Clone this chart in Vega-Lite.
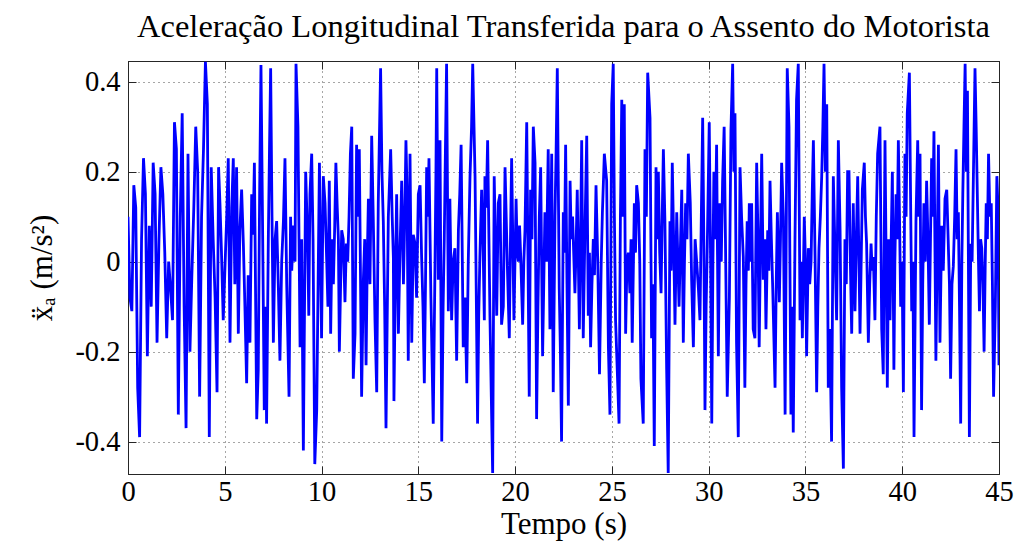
{
  "$schema": "https://vega.github.io/schema/vega-lite/v6.json",
  "width": 871,
  "height": 413,
  "autosize": {"type": "none"},
  "padding": {"left": 128, "top": 61, "right": 18, "bottom": 73},
  "background": "white",
  "title": {"text": "Aceleração Longitudinal Transferida para o Assento do Motorista", "font": "Liberation Serif", "fontSize": 32.5, "fontWeight": "normal", "color": "#000", "anchor": "middle", "offset": 17},
  "config": {
    "view": {"stroke": "#262626", "strokeWidth": 1},
    "axis": {"labelFont": "Liberation Serif", "titleFont": "Liberation Serif", "labelFontSize": 28.5, "titleFontSize": 31, "titleFontWeight": "normal", "labelColor": "#000", "titleColor": "#000", "domainColor": "#262626", "tickColor": "#262626", "tickSize": -8, "gridColor": "#222", "gridDash": [1, 4], "gridOpacity": 0.8}
  },
  "data": {"values": [
    {"t":0.0,"a":0.10},{"t":0.1,"a":-0.08},{"t":0.2,"a":-0.11},{"t":0.3,"a":0.17},{"t":0.4,"a":0.12},{"t":0.5,"a":-0.28},{"t":0.6,"a":-0.39},{"t":0.7,"a":0.05},{"t":0.8,"a":0.23},{"t":0.9,"a":0.15},
    {"t":1.0,"a":-0.21},{"t":1.1,"a":0.08},{"t":1.2,"a":-0.10},{"t":1.3,"a":0.22},{"t":1.4,"a":0.15},{"t":1.5,"a":-0.18},{"t":1.6,"a":0.05},{"t":1.7,"a":0.21},{"t":1.8,"a":0.15},{"t":1.9,"a":0.02},
    {"t":2.0,"a":-0.17},{"t":2.1,"a":0.0},{"t":2.2,"a":-0.06},{"t":2.3,"a":-0.13},{"t":2.4,"a":0.31},{"t":2.5,"a":0.25},{"t":2.6,"a":-0.34},{"t":2.7,"a":0.10},{"t":2.8,"a":0.33},{"t":2.9,"a":-0.10},
    {"t":3.0,"a":-0.37},{"t":3.1,"a":0.24},{"t":3.2,"a":-0.20},{"t":3.3,"a":-0.03},{"t":3.4,"a":0.12},{"t":3.5,"a":0.30},{"t":3.6,"a":0.20},{"t":3.7,"a":-0.30},{"t":3.8,"a":0.10},{"t":3.9,"a":0.25},
    {"t":4.0,"a":0.444},{"t":4.1,"a":0.35},{"t":4.2,"a":-0.39},{"t":4.3,"a":0.21},{"t":4.4,"a":0.05},{"t":4.5,"a":-0.08},{"t":4.6,"a":-0.29},{"t":4.68,"a":0.21},
    {"t":4.75,"a":0.13},{"t":4.83,"a":0.02},{"t":4.92,"a":-0.13},{"t":5.02,"a":0.0},{"t":5.10,"a":0.10},{"t":5.18,"a":0.23},{"t":5.27,"a":-0.18},{"t":5.36,"a":0.12},{"t":5.44,"a":0.23},{"t":5.52,"a":-0.05},
    {"t":5.61,"a":0.21},{"t":5.70,"a":-0.16},{"t":5.78,"a":0.07},{"t":5.87,"a":0.16},{"t":5.96,"a":0.04},{"t":6.04,"a":-0.10},{"t":6.13,"a":-0.27},{"t":6.21,"a":-0.03},{"t":6.30,"a":-0.18},{"t":6.39,"a":0.15},
    {"t":6.46,"a":0.06},{"t":6.53,"a":0.22},{"t":6.65,"a":-0.35},{"t":6.73,"a":-0.24},{"t":6.80,"a":0.15},{"t":6.87,"a":0.437},{"t":6.96,"a":0.05},{"t":7.04,"a":-0.33},{"t":7.10,"a":-0.10},{"t":7.16,"a":-0.36},
    {"t":7.25,"a":0.05},{"t":7.31,"a":0.25},{"t":7.37,"a":0.43},{"t":7.44,"a":0.10},{"t":7.51,"a":-0.18},{"t":7.60,"a":0.05},{"t":7.68,"a":0.09},{"t":7.77,"a":-0.06},{"t":7.85,"a":-0.22},{"t":7.94,"a":0.0},
    {"t":8.03,"a":0.09},{"t":8.11,"a":0.23},{"t":8.20,"a":-0.05},{"t":8.32,"a":-0.30},{"t":8.40,"a":0.10},{"t":8.46,"a":-0.02},{"t":8.55,"a":0.08},{"t":8.63,"a":0.0},{"t":8.68,"a":0.44},{"t":8.78,"a":0.30},
    {"t":8.89,"a":-0.19},{"t":8.97,"a":0.05},{"t":9.06,"a":-0.42},{"t":9.12,"a":-0.10},{"t":9.18,"a":0.20},{"t":9.28,"a":0.05},{"t":9.34,"a":-0.12},{"t":9.40,"a":0.15},{"t":9.49,"a":0.24},{"t":9.56,"a":0.05},
    {"t":9.65,"a":-0.45},{"t":9.75,"a":-0.33},{"t":9.89,"a":0.22},{"t":10.0,"a":-0.17},{"t":10.09,"a":0.19},{"t":10.18,"a":0.13},{"t":10.26,"a":0.01},{"t":10.33,"a":-0.10},{"t":10.40,"a":0.18},{"t":10.47,"a":-0.16},
    {"t":10.54,"a":0.05},{"t":10.61,"a":-0.05},{"t":10.68,"a":0.08},{"t":10.74,"a":0.22},{"t":10.81,"a":0.12},{"t":10.87,"a":0.05},{"t":10.92,"a":-0.20},{"t":10.98,"a":-0.06},{"t":11.04,"a":0.07},{"t":11.12,"a":0.05},
    {"t":11.21,"a":-0.09},{"t":11.28,"a":0.04},{"t":11.35,"a":0.0},{"t":11.42,"a":0.10},{"t":11.49,"a":0.24},{"t":11.56,"a":0.30},{"t":11.64,"a":-0.26},{"t":11.73,"a":-0.16},{"t":11.81,"a":0.26},{"t":11.88,"a":0.10},
    {"t":11.95,"a":0.25},{"t":12.07,"a":-0.30},{"t":12.16,"a":-0.04},{"t":12.23,"a":0.05},{"t":12.30,"a":-0.23},{"t":12.36,"a":0.0},{"t":12.42,"a":0.14},{"t":12.50,"a":-0.05},{"t":12.59,"a":0.28},{"t":12.67,"a":0.10},
    {"t":12.76,"a":-0.13},{"t":12.85,"a":-0.29},{"t":12.93,"a":0.13},{"t":13.05,"a":0.43},{"t":13.12,"a":0.20},{"t":13.19,"a":0.09},{"t":13.26,"a":-0.10},{"t":13.33,"a":-0.37},{"t":13.45,"a":0.10},{"t":13.57,"a":0.25},
    {"t":13.65,"a":0.10},{"t":13.71,"a":0.01},{"t":13.74,"a":-0.31},{"t":13.81,"a":-0.05},{"t":13.88,"a":0.15},{"t":13.97,"a":-0.16},{"t":14.05,"a":0.02},{"t":14.14,"a":0.18},{"t":14.23,"a":-0.05},{"t":14.30,"a":0.10},
    {"t":14.36,"a":0.27},{"t":14.42,"a":0.15},{"t":14.48,"a":-0.22},{"t":14.57,"a":0.24},{"t":14.66,"a":-0.18},{"t":14.74,"a":0.06},{"t":14.83,"a":0.04},{"t":14.91,"a":-0.08},{"t":15.0,"a":0.15},{"t":15.09,"a":0.17},
    {"t":15.17,"a":0.01},{"t":15.24,"a":-0.10},{"t":15.31,"a":-0.27},{"t":15.37,"a":-0.05},{"t":15.43,"a":0.21},{"t":15.49,"a":0.10},{"t":15.55,"a":0.23},{"t":15.65,"a":-0.08},{"t":15.77,"a":-0.36},{"t":15.86,"a":-0.01},
    {"t":15.91,"a":0.20},{"t":15.95,"a":0.43},{"t":16.03,"a":-0.04},{"t":16.12,"a":0.27},{"t":16.21,"a":-0.40},{"t":16.28,"a":-0.10},{"t":16.34,"a":0.05},{"t":16.40,"a":0.25},{"t":16.46,"a":0.44},{"t":16.55,"a":-0.11},
    {"t":16.63,"a":0.14},{"t":16.72,"a":-0.13},{"t":16.80,"a":0.0},{"t":16.89,"a":0.03},{"t":16.98,"a":-0.22},{"t":17.07,"a":0.07},{"t":17.14,"a":0.15},{"t":17.21,"a":0.26},{"t":17.32,"a":-0.19},{"t":17.41,"a":-0.08},
    {"t":17.50,"a":-0.27},{"t":17.58,"a":0.0},{"t":17.67,"a":0.19},{"t":17.75,"a":0.30},{"t":17.81,"a":0.44},{"t":17.93,"a":0.19},{"t":18.00,"a":-0.10},{"t":18.06,"a":-0.36},{"t":18.12,"a":-0.12},{"t":18.18,"a":0.01},
    {"t":18.27,"a":0.16},{"t":18.34,"a":0.05},{"t":18.41,"a":-0.13},{"t":18.44,"a":0.19},{"t":18.51,"a":0.12},{"t":18.58,"a":0.27},{"t":18.70,"a":-0.12},{"t":18.77,"a":-0.30},{"t":18.84,"a":-0.47},{"t":18.92,"a":0.19},
    {"t":18.98,"a":0.05},{"t":19.05,"a":-0.12},{"t":19.13,"a":0.13},{"t":19.22,"a":0.15},{"t":19.30,"a":-0.14},{"t":19.39,"a":-0.10},{"t":19.48,"a":0.21},{"t":19.60,"a":-0.01},{"t":19.70,"a":-0.17},{"t":19.76,"a":0.05},
    {"t":19.82,"a":0.23},{"t":19.88,"a":0.05},{"t":19.94,"a":-0.13},{"t":20.05,"a":0.14},{"t":20.11,"a":0.02},{"t":20.17,"a":0.0},{"t":20.23,"a":0.08},{"t":20.29,"a":0.01},{"t":20.39,"a":-0.14},{"t":20.45,"a":0.0},
    {"t":20.51,"a":0.07},{"t":20.60,"a":0.31},{"t":20.73,"a":-0.30},{"t":20.80,"a":0.16},{"t":20.87,"a":0.05},{"t":20.94,"a":0.30},{"t":21.03,"a":0.22},{"t":21.11,"a":-0.35},{"t":21.18,"a":-0.10},{"t":21.25,"a":0.10},
    {"t":21.32,"a":0.21},{"t":21.42,"a":-0.21},{"t":21.48,"a":-0.05},{"t":21.54,"a":0.11},{"t":21.62,"a":0.0},{"t":21.71,"a":0.25},{"t":21.80,"a":-0.15},{"t":21.89,"a":0.24},{"t":21.97,"a":-0.29},{"t":22.06,"a":0.10},
    {"t":22.12,"a":0.25},{"t":22.18,"a":0.43},{"t":22.28,"a":-0.06},{"t":22.34,"a":-0.20},{"t":22.40,"a":-0.40},{"t":22.49,"a":0.11},{"t":22.55,"a":0.02},{"t":22.61,"a":0.26},{"t":22.68,"a":-0.05},{"t":22.75,"a":-0.32},
    {"t":22.84,"a":0.18},{"t":22.90,"a":0.05},{"t":22.97,"a":0.10},{"t":23.09,"a":-0.07},{"t":23.15,"a":0.03},{"t":23.21,"a":0.16},{"t":23.32,"a":-0.15},{"t":23.38,"a":0.05},{"t":23.44,"a":0.27},{"t":23.52,"a":-0.17},
    {"t":23.60,"a":0.05},{"t":23.70,"a":0.28},{"t":23.78,"a":-0.12},{"t":23.84,"a":0.02},{"t":23.90,"a":-0.19},{"t":23.97,"a":-0.05},{"t":24.04,"a":0.05},{"t":24.10,"a":-0.03},{"t":24.18,"a":0.17},{"t":24.27,"a":0.0},
    {"t":24.36,"a":-0.25},{"t":24.45,"a":0.0},{"t":24.51,"a":0.11},{"t":24.61,"a":0.24},{"t":24.73,"a":0.18},{"t":24.82,"a":-0.19},{"t":24.90,"a":-0.34},{"t":24.99,"a":0.35},{"t":25.07,"a":0.44},{"t":25.13,"a":0.10},
    {"t":25.19,"a":-0.13},{"t":25.30,"a":-0.27},{"t":25.37,"a":-0.36},{"t":25.44,"a":0.10},{"t":25.51,"a":0.36},{"t":25.58,"a":0.10},{"t":25.64,"a":0.35},{"t":25.71,"a":-0.16},{"t":25.78,"a":0.0},{"t":25.85,"a":0.02},
    {"t":25.93,"a":-0.07},{"t":25.99,"a":0.05},{"t":26.05,"a":-0.18},{"t":26.16,"a":0.13},{"t":26.22,"a":0.02},{"t":26.28,"a":0.17},{"t":26.37,"a":0.13},{"t":26.44,"a":0.0},{"t":26.50,"a":-0.26},{"t":26.62,"a":-0.36},
    {"t":26.71,"a":0.25},{"t":26.78,"a":0.10},{"t":26.85,"a":0.42},{"t":26.97,"a":0.32},{"t":27.05,"a":-0.17},{"t":27.12,"a":-0.05},{"t":27.19,"a":-0.41},{"t":27.28,"a":0.21},{"t":27.34,"a":0.05},{"t":27.40,"a":0.20},
    {"t":27.47,"a":0.02},{"t":27.54,"a":-0.07},{"t":27.60,"a":0.10},{"t":27.66,"a":0.25},{"t":27.74,"a":0.09},{"t":27.83,"a":-0.24},{"t":27.91,"a":-0.47},{"t":28.00,"a":0.09},{"t":28.06,"a":-0.02},{"t":28.12,"a":0.22},
    {"t":28.19,"a":0.05},{"t":28.26,"a":-0.14},{"t":28.35,"a":0.11},{"t":28.41,"a":0.0},{"t":28.47,"a":-0.10},{"t":28.55,"a":0.05},{"t":28.61,"a":0.16},{"t":28.69,"a":-0.18},{"t":28.75,"a":0.0},{"t":28.81,"a":0.13},
    {"t":28.88,"a":0.05},{"t":28.95,"a":0.24},{"t":29.05,"a":0.13},{"t":29.12,"a":-0.04},{"t":29.21,"a":-0.19},{"t":29.30,"a":0.05},{"t":29.38,"a":0.0},{"t":29.47,"a":-0.06},{"t":29.55,"a":-0.13},{"t":29.62,"a":0.10},
    {"t":29.69,"a":0.32},{"t":29.75,"a":0.05},{"t":29.81,"a":-0.33},{"t":29.87,"a":-0.10},{"t":29.93,"a":0.04},{"t":30.03,"a":0.31},{"t":30.10,"a":0.0},{"t":30.16,"a":-0.36},{"t":30.22,"a":0.0},{"t":30.27,"a":0.20},
    {"t":30.34,"a":0.05},{"t":30.41,"a":0.26},{"t":30.50,"a":-0.21},{"t":30.58,"a":0.13},{"t":30.65,"a":0.0},{"t":30.72,"a":0.18},{"t":30.80,"a":0.30},{"t":30.88,"a":0.0},{"t":30.96,"a":-0.30},{"t":31.07,"a":-0.08},
    {"t":31.15,"a":0.29},{"t":31.24,"a":0.44},{"t":31.30,"a":0.20},{"t":31.36,"a":0.33},{"t":31.44,"a":-0.18},{"t":31.53,"a":-0.39},{"t":31.62,"a":0.21},{"t":31.70,"a":0.10},{"t":31.79,"a":0.01},{"t":31.87,"a":-0.28},
    {"t":31.93,"a":-0.05},{"t":31.99,"a":0.09},{"t":32.05,"a":-0.02},{"t":32.10,"a":0.13},{"t":32.16,"a":0.0},{"t":32.22,"a":0.13},{"t":32.30,"a":-0.15},{"t":32.39,"a":-0.17},{"t":32.48,"a":0.22},{"t":32.55,"a":0.05},
    {"t":32.61,"a":-0.19},{"t":32.68,"a":0.05},{"t":32.74,"a":0.24},{"t":32.82,"a":-0.04},{"t":32.90,"a":0.05},{"t":32.96,"a":-0.15},{"t":33.05,"a":0.07},{"t":33.11,"a":-0.02},{"t":33.17,"a":0.18},{"t":33.24,"a":0.05},
    {"t":33.31,"a":-0.06},{"t":33.43,"a":-0.28},{"t":33.49,"a":-0.05},{"t":33.55,"a":0.11},{"t":33.65,"a":-0.09},{"t":33.71,"a":0.05},{"t":33.77,"a":0.22},{"t":33.86,"a":0.10},{"t":33.95,"a":-0.34},{"t":34.06,"a":0.43},
    {"t":34.15,"a":0.30},{"t":34.25,"a":-0.34},{"t":34.31,"a":-0.10},{"t":34.37,"a":-0.38},{"t":34.46,"a":0.05},{"t":34.54,"a":0.36},{"t":34.63,"a":0.44},{"t":34.72,"a":-0.13},{"t":34.78,"a":0.0},{"t":34.84,"a":-0.17},
    {"t":34.94,"a":0.10},{"t":35.00,"a":0.0},{"t":35.06,"a":-0.21},{"t":35.15,"a":0.03},{"t":35.22,"a":-0.05},{"t":35.29,"a":0.0},{"t":35.35,"a":0.15},{"t":35.41,"a":0.27},{"t":35.50,"a":0.0},{"t":35.58,"a":-0.29},
    {"t":35.64,"a":-0.10},{"t":35.70,"a":0.03},{"t":35.77,"a":0.10},{"t":35.84,"a":0.19},{"t":35.90,"a":0.30},{"t":35.96,"a":0.44},{"t":36.03,"a":0.20},{"t":36.10,"a":0.35},{"t":36.18,"a":-0.28},{"t":36.26,"a":-0.15},
    {"t":36.35,"a":-0.40},{"t":36.44,"a":0.19},{"t":36.53,"a":0.02},{"t":36.61,"a":-0.13},{"t":36.70,"a":0.27},{"t":36.79,"a":0.07},{"t":36.87,"a":-0.28},{"t":36.96,"a":-0.46},{"t":37.04,"a":0.05},{"t":37.11,"a":-0.05},
    {"t":37.18,"a":0.20},{"t":37.25,"a":0.20},{"t":37.32,"a":0.0},{"t":37.39,"a":-0.16},{"t":37.47,"a":0.13},{"t":37.56,"a":-0.11},{"t":37.63,"a":0.05},{"t":37.70,"a":0.19},{"t":37.82,"a":-0.16},{"t":37.88,"a":0.0},
    {"t":37.94,"a":0.16},{"t":38.04,"a":0.22},{"t":38.10,"a":0.10},{"t":38.16,"a":0.04},{"t":38.25,"a":-0.18},{"t":38.32,"a":-0.05},{"t":38.39,"a":0.04},{"t":38.45,"a":-0.02},{"t":38.51,"a":0.01},{"t":38.59,"a":-0.13},
    {"t":38.66,"a":0.10},{"t":38.73,"a":0.24},{"t":38.85,"a":0.30},{"t":38.94,"a":-0.15},{"t":39.02,"a":-0.25},{"t":39.11,"a":0.27},{"t":39.17,"a":0.0},{"t":39.23,"a":-0.28},{"t":39.30,"a":0.05},{"t":39.37,"a":-0.13},
    {"t":39.43,"a":0.05},{"t":39.49,"a":0.20},{"t":39.57,"a":-0.24},{"t":39.62,"a":0.0},{"t":39.68,"a":0.15},{"t":39.74,"a":0.05},{"t":39.80,"a":0.27},{"t":39.86,"a":0.10},{"t":39.92,"a":-0.10},{"t":39.99,"a":0.0},
    {"t":40.06,"a":-0.29},{"t":40.14,"a":0.24},{"t":40.20,"a":0.10},{"t":40.26,"a":0.33},{"t":40.37,"a":0.42},{"t":40.43,"a":0.15},{"t":40.49,"a":-0.11},{"t":40.55,"a":0.0},{"t":40.61,"a":-0.39},{"t":40.71,"a":0.09},
    {"t":40.80,"a":0.27},{"t":40.86,"a":0.10},{"t":40.92,"a":0.24},{"t":41.00,"a":-0.33},{"t":41.06,"a":-0.05},{"t":41.12,"a":0.13},{"t":41.19,"a":0.0},{"t":41.26,"a":0.18},{"t":41.33,"a":0.05},{"t":41.40,"a":-0.14},
    {"t":41.46,"a":0.05},{"t":41.52,"a":0.23},{"t":41.58,"a":0.10},{"t":41.64,"a":0.29},{"t":41.74,"a":-0.22},{"t":41.80,"a":0.0},{"t":41.87,"a":0.26},{"t":41.95,"a":-0.18},{"t":42.04,"a":0.08},{"t":42.12,"a":-0.02},
    {"t":42.21,"a":0.14},{"t":42.30,"a":0.16},{"t":42.38,"a":0.04},{"t":42.44,"a":-0.05},{"t":42.50,"a":-0.26},{"t":42.57,"a":-0.05},{"t":42.64,"a":-0.01},{"t":42.71,"a":0.10},{"t":42.78,"a":0.25},{"t":42.84,"a":0.05},
    {"t":42.90,"a":0.11},{"t":42.96,"a":-0.10},{"t":43.02,"a":-0.36},{"t":43.08,"a":0.0},{"t":43.13,"a":0.15},{"t":43.19,"a":0.30},{"t":43.25,"a":0.44},{"t":43.31,"a":0.20},{"t":43.37,"a":0.38},{"t":43.47,"a":-0.39},
    {"t":43.54,"a":0.04},{"t":43.61,"a":0.0},{"t":43.68,"a":0.20},{"t":43.76,"a":0.43},{"t":43.82,"a":0.30},{"t":43.88,"a":0.15},{"t":43.94,"a":0.0},{"t":43.99,"a":-0.11},{"t":44.05,"a":0.05},{"t":44.11,"a":0.03},
    {"t":44.17,"a":-0.05},{"t":44.23,"a":-0.20},{"t":44.29,"a":0.0},{"t":44.34,"a":0.13},{"t":44.40,"a":0.05},{"t":44.46,"a":0.24},{"t":44.53,"a":0.10},{"t":44.60,"a":0.13},{"t":44.66,"a":-0.05},{"t":44.72,"a":-0.30},
    {"t":44.81,"a":-0.10},{"t":44.89,"a":0.19},{"t":44.95,"a":0.12},{"t":45.0,"a":-0.23}
  ]},
  "layer": [
    {
      "mark": {"type": "line", "color": "#0000FF", "strokeWidth": 2.8, "clip": true, "strokeJoin": "miter"},
      "encoding": {
        "x": {"field": "t", "type": "quantitative", "scale": {"domain": [0, 45], "nice": false, "zero": false},
          "axis": {"orient": "bottom", "title": "Tempo (s)", "values": [0,5,10,15,20,25,30,35,40,45], "grid": true, "labelPadding": 11, "titlePadding": 4, "labelFlush": false, "labelOverlap": false}},
        "y": {"field": "a", "type": "quantitative", "scale": {"domain": [-0.472, 0.446], "nice": false, "zero": false},
          "axis": {"orient": "left", "title": "ẍₐ (m/s²)", "values": [-0.4,-0.2,0,0.2,0.4], "grid": true, "labelPadding": 16, "titlePadding": 16,
            "labelExpr": "datum.value == 0 ? '0' : (datum.value < 0 ? '-' + format(-datum.value, '.1f') : format(datum.value, '.1f'))"}}
      }
    },
    {
      "mark": {"type": "line", "strokeOpacity": 0, "clip": true},
      "encoding": {
        "x": {"field": "t", "type": "quantitative", "scale": {"domain": [0, 45], "nice": false, "zero": false},
          "axis": {"orient": "top", "title": null, "labels": false, "grid": false, "values": [0,5,10,15,20,25,30,35,40,45]}},
        "y": {"field": "a", "type": "quantitative", "scale": {"domain": [-0.472, 0.446], "nice": false, "zero": false},
          "axis": {"orient": "right", "title": null, "labels": false, "grid": false, "values": [-0.4,-0.2,0,0.2,0.4]}}
      }
    }
  ],
  "resolve": {"axis": {"x": "independent", "y": "independent"}}
}
